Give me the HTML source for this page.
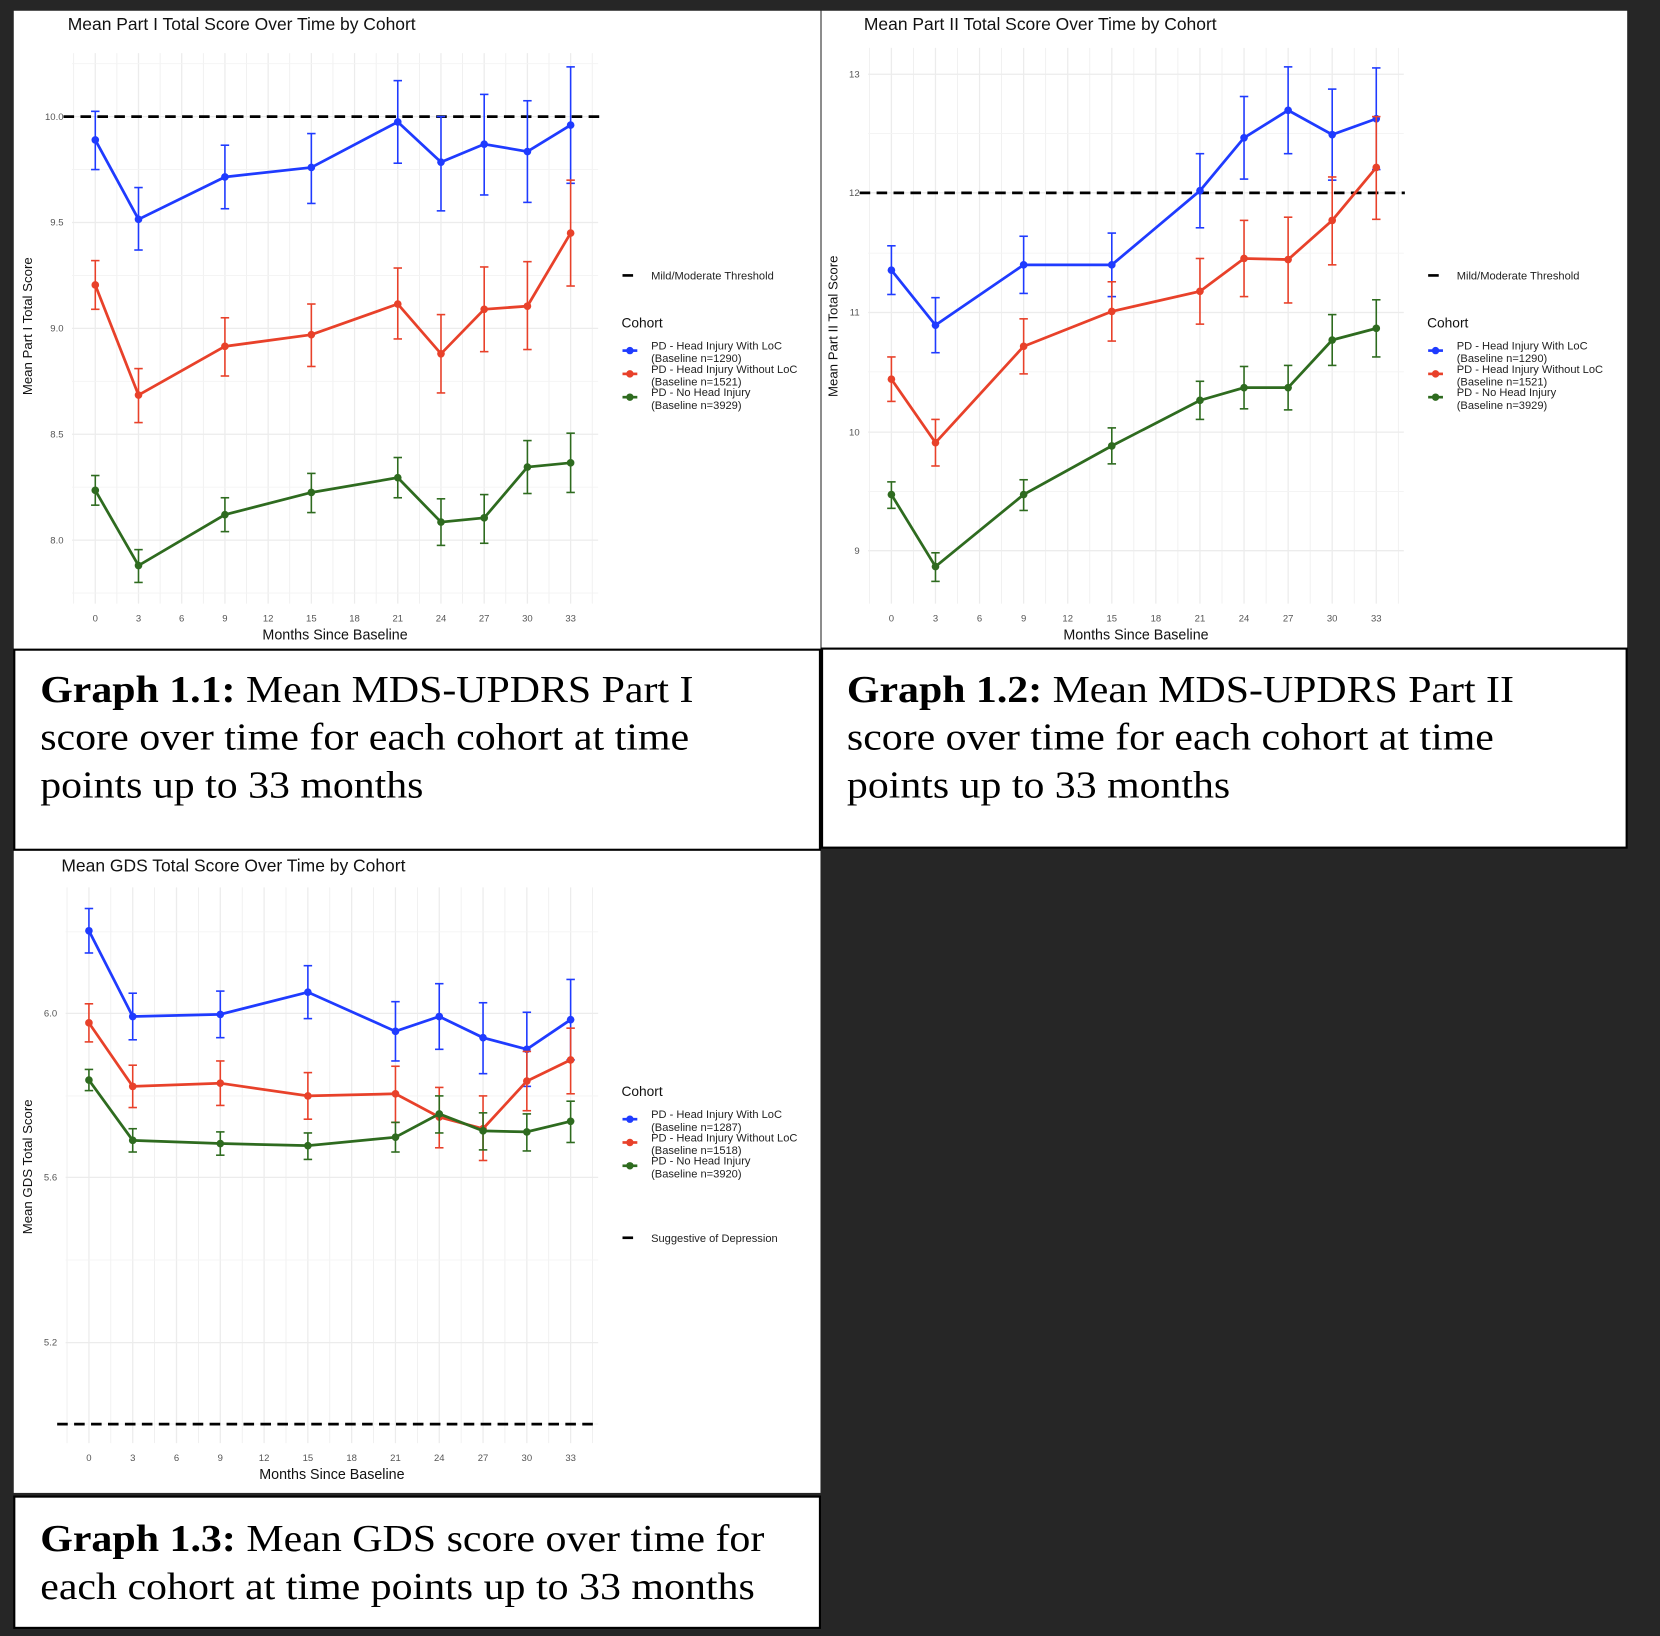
<!DOCTYPE html>
<html><head><meta charset="utf-8"><style>
html,body{margin:0;padding:0;background:#262626;}
svg{display:block}
</style></head><body>
<svg id="s" width="1660" height="1636" viewBox="0 0 1568 1545" xmlns="http://www.w3.org/2000/svg" font-family="Liberation Sans, sans-serif">
<rect x="0" y="0" width="1568" height="1545" fill="#262626"/>
<rect x="13" y="10" width="762" height="603" fill="#fff"/>
<rect x="776" y="10" width="761" height="602" fill="#fff"/>
<rect x="13" y="803" width="762" height="607" fill="#fff"/>
<rect x="13.5" y="613.5" width="761" height="189" fill="#fff" stroke="#000" stroke-width="2"/>
<rect x="776.5" y="612.5" width="760" height="188" fill="#fff" stroke="#000" stroke-width="2"/>
<rect x="13.5" y="1413.5" width="761" height="124" fill="#fff" stroke="#000" stroke-width="2"/>
<g font-family="Liberation Serif, serif" font-size="36" fill="#000">
<text x="38" y="663" textLength="617" lengthAdjust="spacingAndGlyphs"><tspan font-weight="bold">Graph 1.1:</tspan> Mean MDS-UPDRS Part I</text>
<text x="38" y="708" textLength="613" lengthAdjust="spacingAndGlyphs">score over time for each cohort at time</text>
<text x="38" y="753" textLength="362" lengthAdjust="spacingAndGlyphs">points up to 33 months</text>
<text x="800" y="663" textLength="630" lengthAdjust="spacingAndGlyphs"><tspan font-weight="bold">Graph 1.2:</tspan> Mean MDS-UPDRS Part II</text>
<text x="800" y="708" textLength="611" lengthAdjust="spacingAndGlyphs">score over time for each cohort at time</text>
<text x="800" y="753" textLength="362" lengthAdjust="spacingAndGlyphs">points up to 33 months</text>
<text x="38" y="1465" textLength="684" lengthAdjust="spacingAndGlyphs"><tspan font-weight="bold">Graph 1.3:</tspan> Mean GDS score over time for</text>
<text x="38" y="1510" textLength="675" lengthAdjust="spacingAndGlyphs">each cohort at time points up to 33 months</text>
</g>
<g id="c"></g>
</svg>
<script>
var G=document.getElementById('c'),out='';
var B='#1f3bff',R='#e8412a',Gr='#2e6b1f';
var months=[0,3,9,15,21,24,27,30,33];
function chart(o){
  var s='';
  var xp=function(m){return o.x0+(o.x33-o.x0)*m/33;};
  for(var m=-1.5;m<=34.5;m+=1.5){var x=xp(m); if(x<o.gx0||x>o.gx1)continue;
    s+='<line x1="'+x+'" x2="'+x+'" y1="'+o.gy0+'" y2="'+o.gy1+'" stroke="#ececec" stroke-width="'+(m%3==0?1.2:0.7)+'"/>';}
  o.yt.forEach(function(t){s+='<line x1="'+o.gx0+'" x2="'+o.gx1+'" y1="'+t[1]+'" y2="'+t[1]+'" stroke="#ececec" stroke-width="1.2"/>';
    s+='<text x="'+(o.gx0-8)+'" y="'+(t[1]+3)+'" font-size="9" fill="#555" text-anchor="end">'+t[0]+'</text>';});
  o.ym.forEach(function(y){s+='<line x1="'+o.gx0+'" x2="'+o.gx1+'" y1="'+y+'" y2="'+y+'" stroke="#f3f3f3" stroke-width="0.8"/>';});
  for(var m=0;m<=33;m+=3){s+='<text x="'+xp(m)+'" y="'+(o.gy1+17)+'" font-size="9" fill="#555" text-anchor="middle">'+m+'</text>';}
  s+='<text x="'+((o.gx0+o.gx1)/2)+'" y="'+(o.gy1+34)+'" font-size="13.5" fill="#111" text-anchor="middle">Months Since Baseline</text>';
  s+='<text transform="translate('+o.ytx+','+o.ymid+') rotate(-90)" font-size="12.5" fill="#111" text-anchor="middle">'+o.ytitle+'</text>';
  s+='<text x="'+o.tx+'" y="'+o.ty+'" font-size="16.5" fill="#111">'+o.title+'</text>';
  s+='<line x1="'+(o.gx0-8)+'" x2="'+(o.gx1+1)+'" y1="'+o.dash+'" y2="'+o.dash+'" stroke="#000" stroke-width="2.6" stroke-dasharray="10,6"/>';
  o.series.forEach(function(se){
    var pts=se.d.map(function(d,i){return xp(months[i])+','+d[0];}).join(' ');
    se.d.forEach(function(d,i){var x=xp(months[i]);
      s+='<g stroke="'+se.c+'" stroke-width="1.5"><line x1="'+x+'" x2="'+x+'" y1="'+d[1]+'" y2="'+d[2]+'"/><line x1="'+(x-4)+'" x2="'+(x+4)+'" y1="'+d[1]+'" y2="'+d[1]+'"/><line x1="'+(x-4)+'" x2="'+(x+4)+'" y1="'+d[2]+'" y2="'+d[2]+'"/></g>';});
    s+='<polyline points="'+pts+'" fill="none" stroke="'+se.c+'" stroke-width="2.6"/>';
    se.d.forEach(function(d,i){s+='<circle cx="'+xp(months[i])+'" cy="'+d[0]+'" r="3.6" fill="'+se.c+'"/>';});
  });
  var lx=o.lx;
  s+='<line x1="'+(lx+1)+'" x2="'+(lx+11)+'" y1="'+o.ldash+'" y2="'+o.ldash+'" stroke="#000" stroke-width="2.5"/>';
  s+='<text x="'+(lx+28)+'" y="'+(o.ldash+4)+'" font-size="10.5" fill="#222">'+o.dlabel+'</text>';
  s+='<text x="'+lx+'" y="'+o.cy+'" font-size="13" fill="#111">Cohort</text>';
  var labs=[['PD - Head Injury With LoC','(Baseline n='+o.n[0]+')',B],['PD - Head Injury Without LoC','(Baseline n='+o.n[1]+')',R],['PD - No Head Injury','(Baseline n='+o.n[2]+')',Gr]];
  labs.forEach(function(l,i){var y=o.cy+22+22*i;
    s+='<line x1="'+(lx+1)+'" x2="'+(lx+15)+'" y1="'+y+'" y2="'+y+'" stroke="'+l[2]+'" stroke-width="2.5"/><circle cx="'+(lx+8)+'" cy="'+y+'" r="3.5" fill="'+l[2]+'"/>';
    s+='<text x="'+(lx+28)+'" y="'+(y-1)+'" font-size="10.5" fill="#222">'+l[0]+'</text><text x="'+(lx+28)+'" y="'+(y+11)+'" font-size="10.5" fill="#222">'+l[1]+'</text>';});
  return s;
}
out+=chart({x0:90,x33:539,gx0:68,gx1:565,gy0:50,gy1:570,ytx:30,ymid:308,ytitle:'Mean Part I Total Score',title:'Mean Part I Total Score Over Time by Cohort',tx:64,ty:28,dash:110,
 yt:[['10.0',110],['9.5',210],['9.0',310],['8.5',410],['8.0',510]],ym:[60,160,260,360,460,560],
 lx:587,ldash:260,dlabel:'Mild/Moderate Threshold',cy:309,n:[1290,1521,3929],
 series:[{c:B,d:[[132,105,160],[207,177,236],[167,137,197],[158,126,192],[115,76,154],[153,110,199],[136,89,184],[143,95,191],[118,63,173]]},
 {c:R,d:[[269,246,292],[373,348,399],[327,300,355],[316,287,346],[287,253,320],[334,297,371],[292,252,332],[289,247,330],[220,170,270]]},
 {c:Gr,d:[[463,449,477],[534,519,550],[486,470,502],[465,447,484],[451,432,470],[493,471,515],[489,467,513],[441,416,466],[437,409,465]]}]});
out+=chart({x0:842,x33:1300,gx0:820,gx1:1326,gy0:45,gy1:570,ytx:791,ymid:308,ytitle:'Mean Part II Total Score',title:'Mean Part II Total Score Over Time by Cohort',tx:816,ty:28,dash:182,
 yt:[['13',70],['12',182],['11',295],['10',408],['9',520]],ym:[126,239,351,464],
 lx:1348,ldash:260,dlabel:'Mild/Moderate Threshold',cy:309,n:[1290,1521,3929],
 series:[{c:B,d:[[255,232,278],[307,281,333],[250,223,277],[250,220,280],[180,145,215],[130,91,169],[104,63,145],[127,84,170],[112,64,160]]},
 {c:R,d:[[358,337,379],[418,396,440],[327,301,353],[294,266,322],[275,244,306],[244,208,280],[245,205,286],[208,167,250],[158,110,207]]},
 {c:Gr,d:[[467,455,480],[535,522,549],[467,453,482],[421,404,438],[378,360,396],[366,346,386],[366,345,387],[321,297,345],[310,283,337]]}]});
out+=chart({x0:84,x33:539,gx0:62,gx1:565,gy0:838,gy1:1363,ytx:30,ymid:1102,ytitle:'Mean GDS Total Score',title:'Mean GDS Total Score Over Time by Cohort',tx:58,ty:823,dash:1345,
 yt:[['6.0',957],['5.6',1112],['5.2',1268]],ym:[880,1035,1190,1345],
 lx:587,ldash:1169,dlabel:'Suggestive of Depression',cy:1035,n:[1287,1518,3920],
 series:[{c:B,d:[[879,858,900],[960,938,982],[958,936,980],[937,912,962],[974,946,1002],[960,929,991],[980,947,1014],[991,956,1026],[963,925,1001]]},
 {c:R,d:[[966,948,984],[1026,1006,1046],[1023,1002,1044],[1035,1013,1057],[1033,1007,1060],[1055,1027,1084],[1066,1035,1096],[1021,993,1049],[1001,971,1033]]},
 {c:Gr,d:[[1020,1010,1030],[1077,1066,1088],[1080,1069,1091],[1082,1070,1095],[1074,1060,1088],[1052,1035,1070],[1068,1051,1086],[1069,1052,1087],[1059,1040,1079]]}]});
G.innerHTML=out;
</script>
</body></html>
